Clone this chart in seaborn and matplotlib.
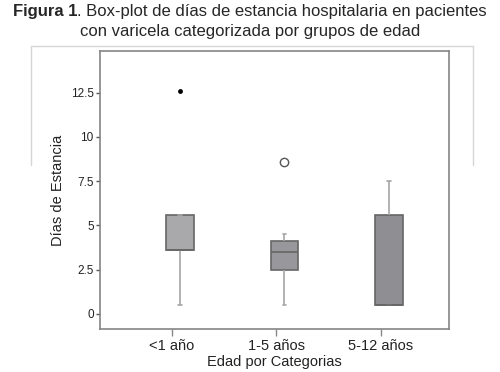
import matplotlib
matplotlib.use("Agg")
import matplotlib.pyplot as plt
import seaborn as sns
import pandas as pd

# categorias de edad
categorias = ["<1 año", "1-5 años", "5-12 años"]

# dias de estancia (sin atipicos)
dias_menor1 = [0.5, 3.6, 3.6, 3.6, 5.6, 5.6, 5.6]
dias_1a5 = [0.5, 2.5, 2.5, 3.5, 4.1, 4.1, 4.5]
dias_5a12 = [0.5, 0.5, 0.5, 0.5, 5.6, 5.6, 7.5]

# atipicos: extremo (punto negro) y leve (circulo)
extremo_cat = ["<1 año"]
extremo_dias = [12.6]
atipico_cat = ["1-5 años"]
atipico_dias = [8.6]

colores = ["#a9a9ac", "#98989c", "#8e8e93"]
yticks = [0, 2.5, 5, 7.5, 10, 12.5]
ytick_labels = ["0", "2.5", "5", "7.5", "10", "12.5"]

df = pd.DataFrame({
    "edad": [categorias[0]] * len(dias_menor1) + [categorias[1]] * len(dias_1a5)
            + [categorias[2]] * len(dias_5a12),
    "dias": dias_menor1 + dias_1a5 + dias_5a12,
})

sns.set_style("ticks")
plt.rcParams["font.family"] = ["Liberation Sans", "DejaVu Sans"]

fig, ax = plt.subplots(figsize=(5, 3.72), dpi=100)
fig.subplots_adjust(left=0.2, right=0.898, bottom=0.1156, top=0.863)

sns.boxplot(data=df, x="edad", y="dias", hue="edad", order=categorias,
            hue_order=categorias, palette=colores, legend=False, width=0.26,
            whis=(0, 100), showfliers=False, saturation=1,
            linecolor="#666666", linewidth=1.2,
            whiskerprops=dict(color="#a5a5a5"), capprops=dict(color="#a5a5a5"),
            medianprops=dict(color="#666666"), capwidths=0.035, ax=ax)

sns.stripplot(x=extremo_cat, y=extremo_dias, order=categorias, jitter=False,
              color="black", size=3.5, ax=ax)
sns.stripplot(x=atipico_cat, y=atipico_dias, order=categorias, jitter=False,
              color="white", edgecolor="#555555", linewidth=1, size=6, ax=ax)

ax.set_xlim(-0.765, 2.575)
ax.set_ylim(-0.85, 14.86)
ax.set_xticks([i - 0.08 for i in range(len(categorias))], categorias)
ax.set_yticks(yticks, ytick_labels)

for s in ax.spines.values():
    s.set_visible(True)
    s.set_color("#858585")
    s.set_linewidth(1.2)

ax.tick_params(axis="x", length=5, width=1, color="#888888", pad=2,
               labelsize=10.5, labelcolor="#222222")
ax.tick_params(axis="y", length=3, width=1, color="#555555", pad=1.5,
               labelsize=8.5, labelcolor="#222222")

ax.set_xlabel("Edad por Categorias", fontsize=10.5, color="#222222")
ax.set_ylabel("Días de Estancia", fontsize=10.5, color="#222222")
ax.xaxis.set_label_coords(0.5, -0.0935)
ax.yaxis.set_label_coords(-0.1, 0.5)

# titulo en dos partes (negrita + normal), centrado
r = fig.canvas.get_renderer()
t1 = fig.text(0, 1 - 16 / 372, "Figura 1", weight="bold", fontsize=12,
              va="baseline", ha="left")
t2 = fig.text(0, 1 - 16 / 372,
              ". Box-plot de días de estancia hospitalaria en pacientes",
              fontsize=12, va="baseline", ha="left")
w1 = t1.get_window_extent(r).width
w2 = t2.get_window_extent(r).width
x0 = (500 - w1 - w2) / 2
t1.set_x(x0 / 500)
t2.set_x((x0 + w1) / 500)
fig.text(0.5, 1 - 36 / 372, "con varicela categorizada por grupos de edad",
         fontsize=12, va="baseline", ha="center")

# marco exterior tenue
gris = "#d6d6d6"
fig.add_artist(plt.Line2D([31 / 500, 31 / 500], [1 - 165 / 372, 1 - 46 / 372],
                          color=gris, lw=1))
fig.add_artist(plt.Line2D([31 / 500, 473 / 500], [1 - 46 / 372, 1 - 46 / 372],
                          color=gris, lw=1))
fig.add_artist(plt.Line2D([473 / 500, 473 / 500], [1 - 165 / 372, 1 - 46 / 372],
                          color=gris, lw=1))

fig.savefig("out.png", dpi=100)
